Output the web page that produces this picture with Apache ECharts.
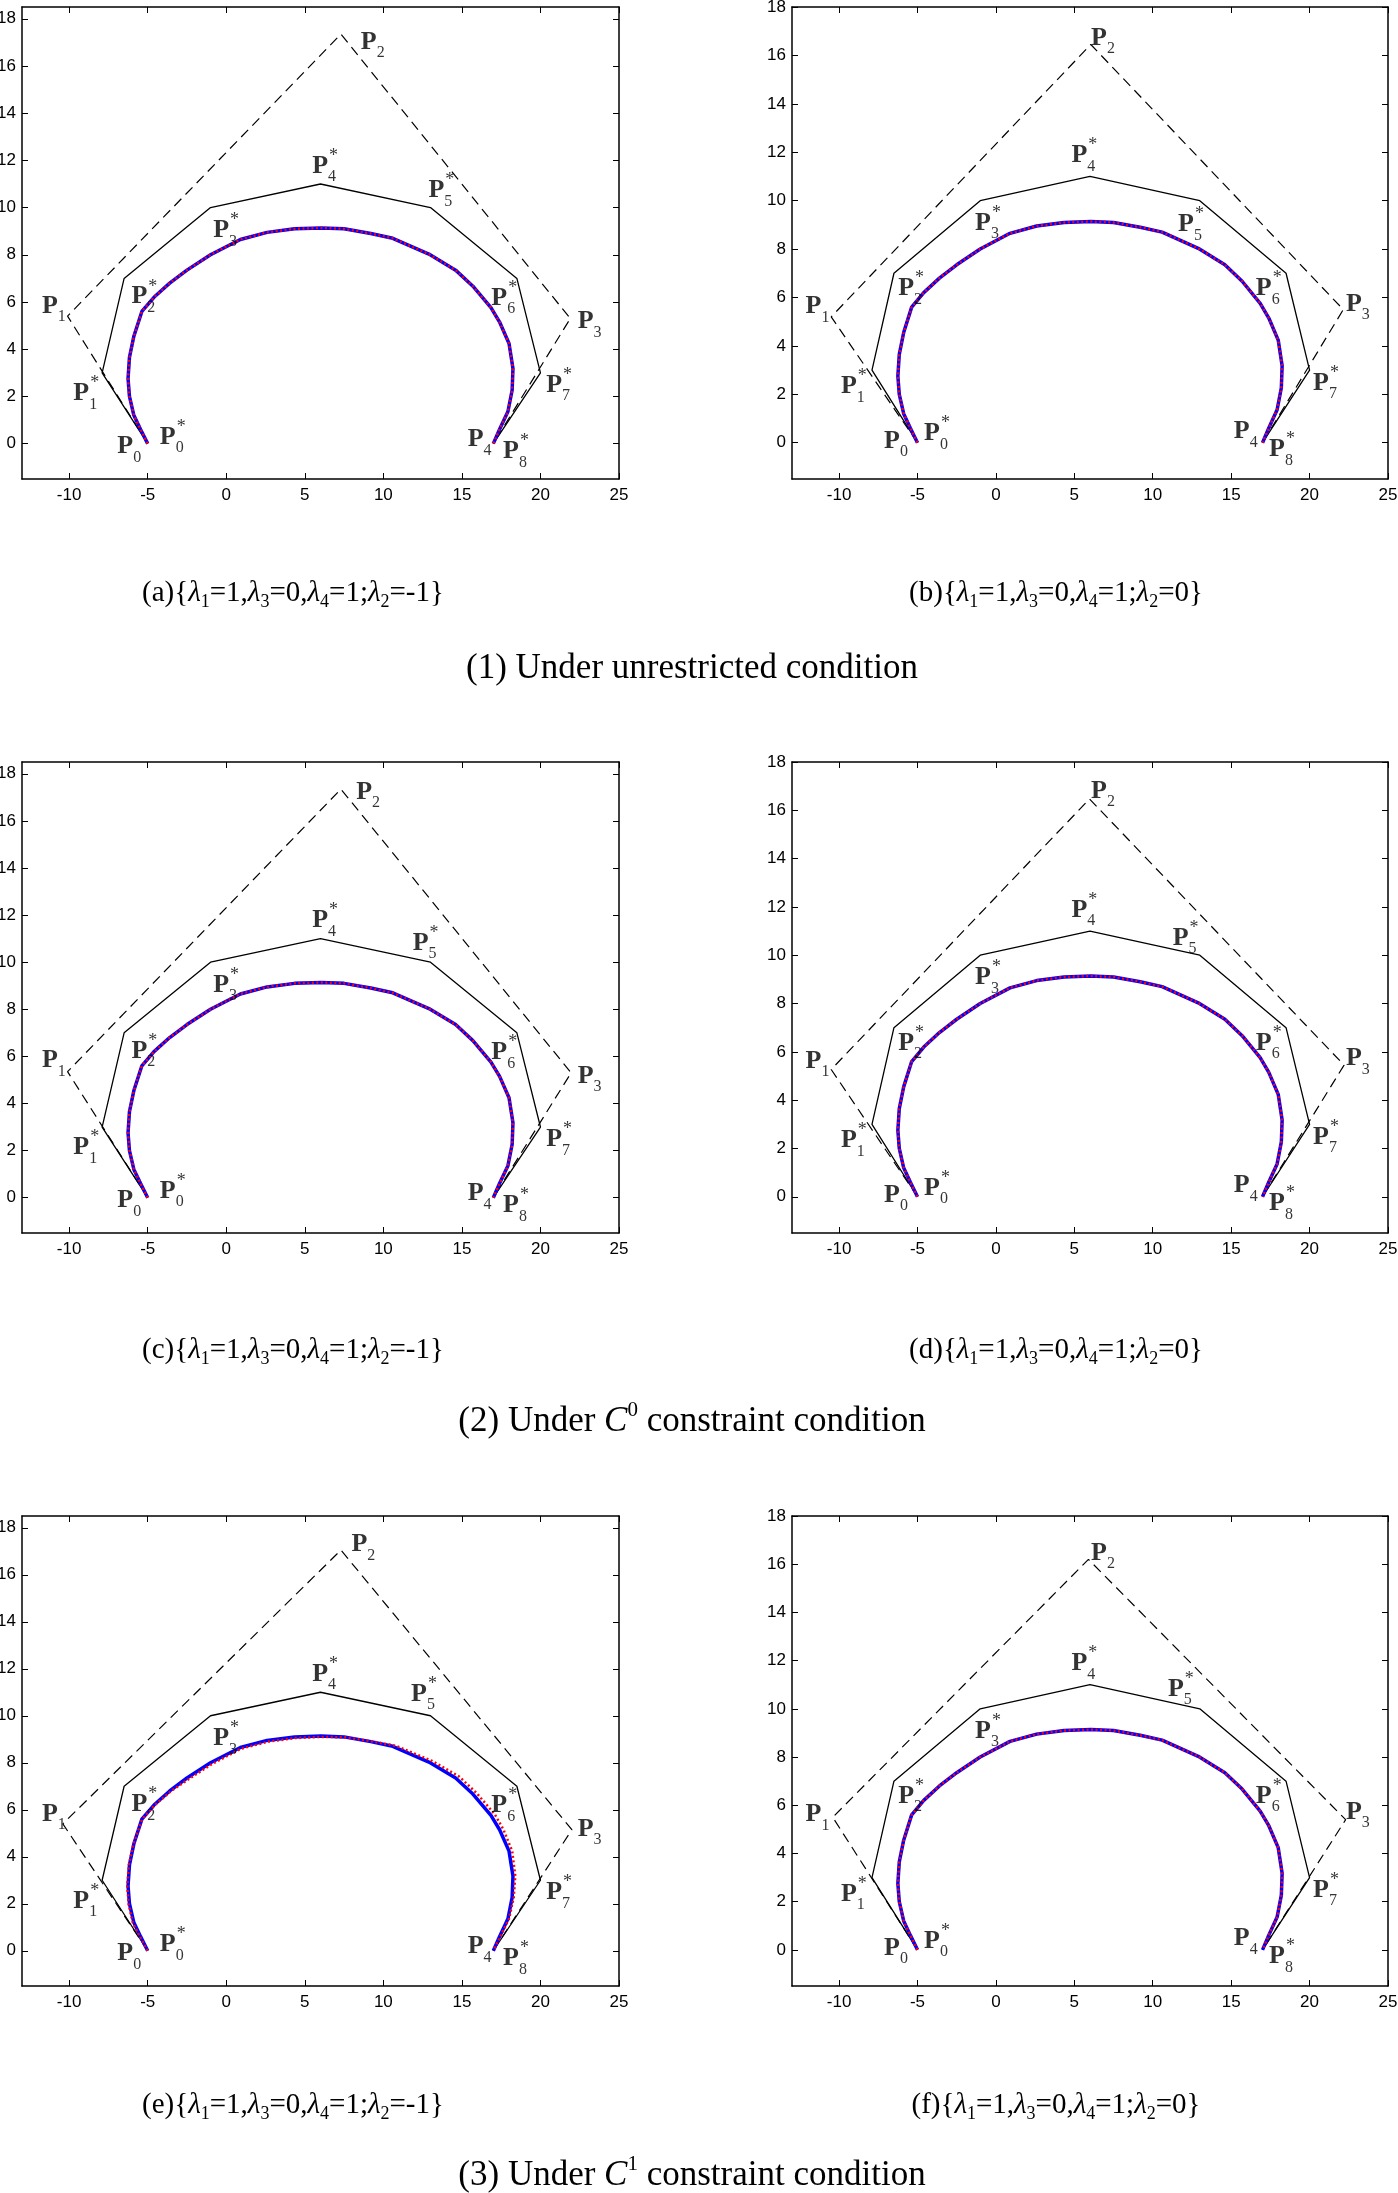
<!DOCTYPE html>
<html>
<head>
<meta charset="utf-8">
<script src="https://cdn.jsdelivr.net/npm/echarts@6/dist/echarts.min.js"></script>
<style>
  html, body { margin: 0; padding: 0; background: #fff; }
</style>
</head>
<body>
<div id="main" style="width:1398px;height:2193px"></div>
<script>
// tick labels
const xTicks = [-10, -5, 0, 5, 10, 15, 20, 25];
const yTicks = [0, 2, 4, 6, 8, 10, 12, 14, 16, 18];

// panels a..f (left column a,c,e ; right column b,d,f)
const panelIds = ['a', 'b', 'c', 'd', 'e', 'f'];
const yMaxes = [18.5, 18, 18.5, 18, 18.5, 18];
const lambda2 = ['-1', '0', '-1', '0', '-1', '0'];

// original control polygon P0..P4 (dashed), read per panel
const polyA = [[-5, 0], [-10.1, 5.4], [7.3, 17.35], [21.9, 5.3], [17, 0]];
const polyB = [[-5, 0], [-10.5, 5.2], [6.05, 16.45], [22.15, 5.5], [17, 0]];
const polyC = [[-5, 0], [-10.1, 5.35], [7.3, 17.35], [21.95, 5.3], [17, 0]];
const polyD = [[-5, 0], [-10.5, 5.27], [5.97, 16.47], [22.2, 5.45], [17, 0]];
const polyE = [[-5, 0], [-10.4, 5.4], [7.3, 17.05], [22.0, 5.15], [17, 0]];
const polyF = [[-5, 0], [-10.4, 5.5], [5.9, 16.2], [22.3, 5.4], [17, 0]];

// new control polygon P0*..P8* (solid)
const starX = [-5, -7.9, -6.5, -1, 6, 13, 18.5, 20, 17];
const starY = [0, 3, 7, 10, 11, 10, 7, 3, 0];

// approximating curve (blue solid / red dotted)
const curveX = [-5.0, -5.45, -5.88, -6.16, -6.25, -6.16, -5.88, -5.37, -4.6, -3.6, -2.5, -1.0, 0.9, 2.6, 4.35, 6.05, 7.5, 9.2, 10.6, 12.9, 14.6, 15.7, 16.85, 17.4, 18.0, 18.25, 18.2, 17.93, 17.4, 17.0];
const curveY = [0, 0.6, 1.2, 2.0, 2.75, 3.65, 4.55, 5.6, 6.2, 6.8, 7.35, 8.0, 8.65, 8.95, 9.1, 9.14, 9.1, 8.9, 8.7, 8.03, 7.35, 6.67, 5.76, 5.15, 4.24, 3.18, 2.27, 1.36, 0.61, 0];
// panel (e): red dotted curve drifts slightly outward on the right
const curveRedEX = [-5.0, -5.5, -5.95, -6.22, -6.3, -6.2, -5.9, -5.35, -4.55, -3.5, -2.4, -0.9, 0.95, 2.7, 4.4, 6.1, 7.6, 9.35, 10.8, 13.1, 14.85, 15.95, 17.1, 17.65, 18.2, 18.4, 18.3, 18.0, 17.45, 17.0];
const curveRedEY = [0, 0.6, 1.2, 2.0, 2.75, 3.65, 4.55, 5.6, 6.2, 6.8, 7.3, 7.95, 8.6, 8.9, 9.05, 9.1, 9.08, 8.9, 8.72, 8.08, 7.4, 6.7, 5.8, 5.15, 4.24, 3.18, 2.27, 1.36, 0.61, 0];

// point labels and where they sit
const labelNames = ['P0', 'P0*', 'P1', 'P1*', 'P2', 'P2*', 'P3', 'P3*', 'P4', 'P4*', 'P5*', 'P6*', 'P7*', 'P8*'];
const labelPosLeft = [[-6.9, -0.15], [-4.2, 0.25], [-11.7, 5.8], [-9.7, 2.1], [8.6, 17.0], [-6.0, 6.2], [22.4, 5.15], [-0.8, 9.0], [15.4, 0.15], [5.5, 11.75], [12.9, 10.7], [16.9, 6.15], [20.4, 2.45], [17.65, -0.35]];
const labelPosRight = [[-7.1, 0.05], [-4.55, 0.35], [-12.1, 5.6], [-9.85, 2.3], [6.1, 16.7], [-6.2, 6.35], [22.35, 5.7], [-1.3, 9.05], [15.2, 0.45], [4.85, 11.85], [11.65, 9.0], [16.6, 6.35], [20.25, 2.45], [17.45, -0.3]];
const p2Pos = [[8.6, 17.0], [6.1, 16.7], [8.3, 17.2], [6.1, 16.77], [8.0, 17.27], [6.1, 16.44]];
const p5StarPos = [[12.9, 10.7], [11.65, 9.0], [11.9, 10.8], [11.3, 10.7], [11.8, 10.9], [11.0, 10.8]];

const groupTitles = ['(1) Under unrestricted condition', '(2) Under {i|C}{sup|0} constraint condition', '(3) Under {i|C}{sup|1} constraint condition'];

const polys = [polyA, polyB, polyC, polyD, polyE, polyF];
const boxes = [[22, 7, 597, 472], [792, 7, 596, 472], [22, 762, 597, 471], [792, 762, 596, 471], [22, 1516, 597, 470], [792, 1516, 596, 470]];
const subCapY = [593, 1350, 2105];
const groupCapY = [669, 1422, 2176];
const subCapX = [293, 1056];

const zip = (xs, ys) => xs.map((x, k) => [x, ys[k]]);

function richLabel(name) {
  const m = name.match(/^P(\d)(\*?)$/);
  return m[2] ? '{p|P}{subs|' + m[1] + '}{sup|*}' : '{p|P}{sub|' + m[1] + '}';
}

const labelRich = {
  p: { fontFamily: 'Liberation Serif', fontWeight: 'bold', fontSize: 26, lineHeight: 38, color: '#000' },
  sub: { fontFamily: 'Liberation Serif', fontSize: 16, lineHeight: 23, verticalAlign: 'bottom', color: '#000' },
  subs: { fontFamily: 'Liberation Serif', fontSize: 16, lineHeight: 23, verticalAlign: 'bottom', width: 1, color: '#000' },
  sup: { fontFamily: 'Liberation Serif', fontSize: 18, lineHeight: 24, verticalAlign: 'top', color: '#000' }
};

const grid = [], xAxis = [], yAxis = [], series = [];
const axisFont = { fontFamily: 'Liberation Sans, Arial', fontSize: 17, color: '#000' };
const axisLineStyle = { show: true, onZero: false, lineStyle: { color: '#000', width: 1.5 } };

panelIds.forEach((id, i) => {
  const b = boxes[i];
  grid.push({ left: b[0], top: b[1], width: b[2], height: b[3], containLabel: false, outerBoundsMode: 'none' });
  // bottom / top x axes
  xAxis.push({
    type: 'value', gridIndex: i, position: 'bottom', min: -13, max: 25,
    axisLine: axisLineStyle, splitLine: { show: false },
    axisTick: { inside: true, length: 6, customValues: xTicks, lineStyle: { color: '#000' } },
    axisLabel: Object.assign({ margin: 8, customValues: xTicks }, axisFont)
  });
  xAxis.push({
    type: 'value', gridIndex: i, position: 'top', min: -13, max: 25,
    axisLine: axisLineStyle, splitLine: { show: false },
    axisTick: { inside: true, length: 6, customValues: xTicks, lineStyle: { color: '#000' } },
    axisLabel: { show: false }
  });
  // left / right y axes
  yAxis.push({
    type: 'value', gridIndex: i, position: 'left', min: -1.5, max: yMaxes[i],
    axisLine: axisLineStyle, splitLine: { show: false },
    axisTick: { inside: true, length: 6, customValues: yTicks, lineStyle: { color: '#000' } },
    axisLabel: Object.assign({ margin: 6, customValues: yTicks }, axisFont)
  });
  yAxis.push({
    type: 'value', gridIndex: i, position: 'right', min: -1.5, max: yMaxes[i],
    axisLine: axisLineStyle, splitLine: { show: false },
    axisTick: { inside: true, length: 6, customValues: yTicks, lineStyle: { color: '#000' } },
    axisLabel: { show: false }
  });

  const xi = i * 2, yi = i * 2;
  // dashed original polygon
  series.push({
    type: 'line', xAxisIndex: xi, yAxisIndex: yi, data: polys[i], showSymbol: false, z: 2,
    lineStyle: { color: '#000', width: 1.2, type: [10, 6] }
  });
  // solid new polygon
  series.push({
    type: 'line', xAxisIndex: xi, yAxisIndex: yi, data: zip(starX, starY), showSymbol: false, z: 3,
    lineStyle: { color: '#000', width: 1.3 }
  });
  // blue curve
  series.push({
    type: 'line', xAxisIndex: xi, yAxisIndex: yi, data: zip(curveX, curveY), showSymbol: false, z: 4,
    lineStyle: { color: '#0000ff', width: 3.5 }
  });
  // red dotted curve
  const redData = id === 'e' ? zip(curveRedEX, curveRedEY) : zip(curveX, curveY);
  series.push({
    type: 'line', xAxisIndex: xi, yAxisIndex: yi, data: redData, showSymbol: false, z: 5,
    lineStyle: { color: '#ff0000', width: 2.5, type: [2, 2.5], cap: 'butt' }
  });
  // point labels
  const base = i % 2 === 0 ? labelPosLeft : labelPosRight;
  const labelData = labelNames.map((n, k) => {
    let pos = base[k];
    if (n === 'P2') pos = p2Pos[i];
    if (n === 'P5*') pos = p5StarPos[i];
    return { name: n, value: pos };
  });
  series.push({
    type: 'scatter', xAxisIndex: xi, yAxisIndex: yi, data: labelData, symbolSize: 1, z: 6,
    itemStyle: { color: 'rgba(0,0,0,0)' }, silent: true,
    label: {
      show: true, position: [0, 0], align: 'left', verticalAlign: 'middle',
      formatter: p => richLabel(p.name), rich: labelRich
    }
  });
});

// captions
const capRich = {
  i: { fontFamily: 'Liberation Serif', fontStyle: 'italic', fontSize: 29, lineHeight: 37 },
  s: { fontFamily: 'Liberation Serif', fontSize: 18, lineHeight: 28, verticalAlign: 'bottom' }
};
const groupRich = {
  i: { fontFamily: 'Liberation Serif', fontStyle: 'italic', fontSize: 35, lineHeight: 44 },
  sup: { fontFamily: 'Liberation Serif', fontSize: 21, lineHeight: 33, verticalAlign: 'top' }
};
const graphic = [];
panelIds.forEach((id, i) => {
  const txt = '(' + id + '){{i|λ}{s|1}=1,{i|λ}{s|3}=0,{i|λ}{s|4}=1;{i|λ}{s|2}=' + lambda2[i] + '}';
  graphic.push({
    type: 'text', x: subCapX[i % 2], y: subCapY[Math.floor(i / 2)], silent: true,
    style: {
      text: txt, font: '29px "Liberation Serif"', fill: '#000',
      align: 'center', verticalAlign: 'middle', rich: capRich
    }
  });
});
groupTitles.forEach((t, r) => {
  graphic.push({
    type: 'text', x: 692, y: groupCapY[r], silent: true,
    style: {
      text: t, font: '35px "Liberation Serif"', fill: '#000',
      align: 'center', verticalAlign: 'middle', rich: groupRich
    }
  });
});

const myChart = echarts.init(document.getElementById('main'));
myChart.setOption({
  animation: false,
  backgroundColor: '#fff',
  grid: grid,
  xAxis: xAxis,
  yAxis: yAxis,
  series: series,
  graphic: graphic
});
</script>
</body>
</html>
